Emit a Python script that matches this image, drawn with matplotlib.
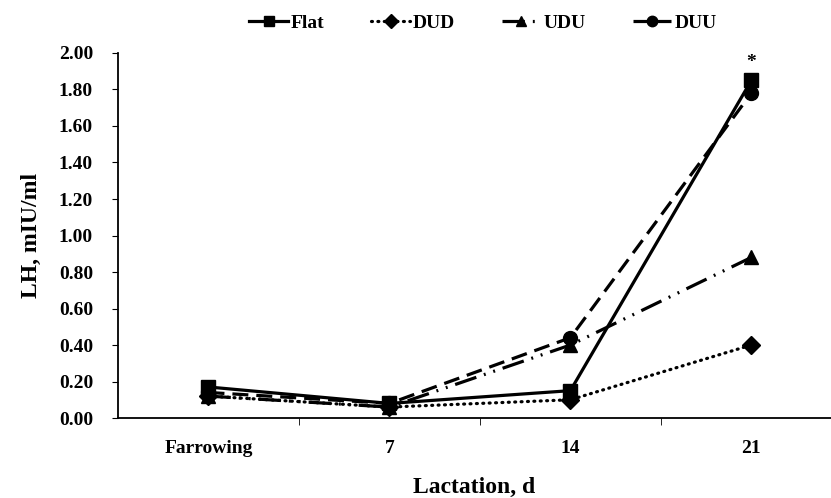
import matplotlib.pyplot as plt

days = ['Farrowing', '7', '14', '21']
flat = [0.17, 0.08, 0.15, 1.85]
dud = [0.12, 0.06, 0.10, 0.40]
udu = [0.12, 0.06, 0.40, 0.88]
duu = [0.14, 0.08, 0.44, 1.78]

plt.rcParams['font.family'] = ['Liberation Serif', 'DejaVu Serif']
plt.rcParams['font.weight'] = 'bold'

fig = plt.figure(figsize=(8.31, 4.98), dpi=100)
ax = fig.add_axes([0.142, 0.1606, 0.858, 0.733])

x = list(range(len(days)))
ax.plot(x, flat, color='black', lw=2.3, ls='-', marker='s', ms=10, label='Flat')
ax.plot(x, dud, color='black', lw=2.3, ls=(0, (0.3, 1.7)), dash_capstyle='round',
        marker='D', ms=9, label='DUD')
ax.plot(x, udu, color='black', lw=2.3, ls=(0, (7, 2.5, 0.6, 2.5, 0.6, 2.5)),
        marker='^', ms=10, label='UDU')
ax.plot(x, duu, color='black', lw=2.3, ls=(0, (5, 2.5)), marker='o', ms=10, label='DUU')

ax.text(3, 1.95, '*', ha='center', va='center', fontsize=14)

ax.set_xlim(-0.5, 3.44)
ax.set_ylim(0, 2.0)
ax.set_yticks([i * 0.2 for i in range(11)])
ax.set_yticklabels(['%.2f' % (i * 0.2) for i in range(11)], fontsize=14)
ax.set_xticks(x)
ax.set_xticklabels(days, fontsize=14)
ax.tick_params(axis='x', which='major', length=0, pad=16)
ax.set_xticks([0.5, 1.5, 2.5], minor=True)
ax.tick_params(axis='x', which='minor', length=5, direction='out')
ax.tick_params(axis='y', length=4, direction='out', pad=14)

ax.spines['top'].set_visible(False)
ax.spines['right'].set_visible(False)
ax.spines['left'].set_linewidth(1.3)
ax.spines['bottom'].set_linewidth(1.3)

ax.set_ylabel('LH, mIU/ml', fontsize=17, fontweight='bold', labelpad=12)
ax.set_xlabel('Lactation, d', fontsize=17, fontweight='bold', labelpad=14)

fig.legend(loc='center', bbox_to_anchor=(0.581, 0.954), ncol=4, frameon=False,
           prop={'size': 14, 'weight': 'bold'}, handlelength=2.0, handletextpad=0.15,
           columnspacing=2.4, markerscale=0.75)

fig.savefig('out.png', dpi=100)
